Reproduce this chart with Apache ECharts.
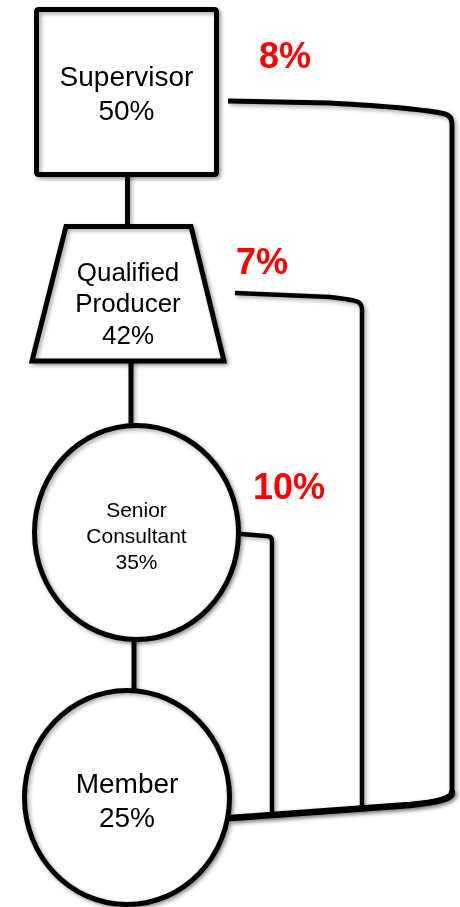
<!DOCTYPE html>
<html>
<head>
<meta charset="utf-8">
<script src="https://cdn.jsdelivr.net/npm/echarts@6/dist/echarts.min.js"></script>
<style>
html,body{margin:0;padding:0;background:#fff;}
#chart{width:460px;height:907px;}
</style>
</head>
<body>
<div id="chart"></div>
<script>
// ---- data ----
const roleNames = ['Supervisor', 'Qualified\nProducer', 'Senior\nConsultant', 'Member'];
const roleShares = [50, 42, 35, 25];
const overrideFrom = ['Supervisor', 'Qualified\nProducer', 'Senior\nConsultant'];
const overrideTo = ['Member', 'Member', 'Member'];
const overrideRates = [8, 7, 10];

// ---- layout (diagram space, 460 x 907) ----
const nodeLayout = [
  { shape: 'rect', x1: 36.5, y1: 9.5, x2: 216.5, y2: 174.5, textY: 95, fontSize: 28, lineHeight: 34 },
  { shape: 'trap', top: 226.5, bottom: 361, tl: 66, tr: 191, bl: 32, br: 224, cx: 128, textY: 305, fontSize: 26, lineHeight: 31.5 },
  { shape: 'ellipse', cx: 136.5, cy: 532.5, rx: 102, ry: 107, textY: 537, fontSize: 21, lineHeight: 26 },
  { shape: 'ellipse', cx: 127, cy: 797.5, rx: 102.5, ry: 107, textY: 802, fontSize: 28, lineHeight: 34 }
];
const stemLayout = [
  [[127.5, 170], [127.5, 230]],
  [[131, 358], [131, 428]],
  [[134, 636], [134, 694]]
];
const linkLayout = [
  { pts: [['M', 228, 101], ['L', 330, 103], ['Q', 420, 108, 445, 114], ['Q', 452, 116, 452, 124], ['L', 452, 792], ['Q', 452, 801, 410, 805], ['L', 231, 818]], label: [285, 58] },
  { pts: [['M', 235, 293], ['L', 330, 297], ['Q', 355, 300, 358, 302], ['Q', 362, 304, 362, 310], ['L', 362, 809]], label: [262, 264] },
  { pts: [['M', 241, 534], ['L', 266, 536], ['Q', 272, 536, 272, 541], ['L', 272, 815]], label: [289, 489] }
];

const FONT = '"Liberation Sans", Arial, Helvetica, sans-serif';
const shadow = { shadowBlur: 4, shadowColor: 'rgba(0,0,0,0.35)', shadowOffsetX: 2, shadowOffsetY: 2 };

const chart = echarts.init(document.getElementById('chart'), null, { renderer: 'canvas' });

function P(api, x, y) { return api.coord([x, y]); }

function pathFrom(api, cmds) {
  let s = '';
  cmds.forEach(c => {
    const op = c[0];
    const nums = [];
    for (let i = 1; i < c.length; i += 2) {
      const p = P(api, c[i], c[i + 1]);
      nums.push(p[0].toFixed(2), p[1].toFixed(2));
    }
    s += op + nums.join(' ') + ' ';
  });
  return s;
}

function renderLink(params, api) {
  const i = params.dataIndex;
  const L = linkLayout[i];
  const lp = P(api, L.label[0], L.label[1]);
  const children = [{
    type: 'path',
    shape: { pathData: pathFrom(api, L.pts) },
    style: Object.assign({ fill: null, stroke: '#000', lineWidth: i === 0 ? 5 : 4.5, lineJoin: 'round', lineCap: 'butt' }, shadow)
  }, {
    type: 'text',
    style: {
      text: overrideRates[i] + '%', x: lp[0], y: lp[1], align: 'center', verticalAlign: 'middle',
      fontSize: 36, fontWeight: 'bold', fontFamily: FONT, fill: '#ff0000'
    }
  }];
  if (i === 0) {
    // thicker bottom collector line
    children.push({
      type: 'path',
      shape: { pathData: pathFrom(api, [['M', 452, 793], ['Q', 452, 801, 410, 805], ['L', 231, 818]]) },
      style: Object.assign({ fill: null, stroke: '#000', lineWidth: 6.5, lineCap: 'round' }, shadow)
    });
  }
  return { type: 'group', children: children };
}

function renderStem(params, api) {
  const s = stemLayout[params.dataIndex];
  const a = P(api, s[0][0], s[0][1]), b = P(api, s[1][0], s[1][1]);
  return { type: 'line', shape: { x1: a[0], y1: a[1], x2: b[0], y2: b[1] },
    style: Object.assign({ stroke: '#000', lineWidth: 5 }, shadow) };
}

function renderNode(params, api) {
  const i = params.dataIndex;
  const N = nodeLayout[i];
  const st = Object.assign({ fill: '#fff', stroke: '#000', lineWidth: 5, lineJoin: 'miter' }, shadow);
  let shapeEl, cx;
  if (N.shape === 'rect') {
    const a = P(api, N.x1, N.y1), b = P(api, N.x2, N.y2);
    shapeEl = { type: 'rect', shape: { x: a[0], y: a[1], width: b[0] - a[0], height: b[1] - a[1], r: 2 }, style: st };
    cx = (N.x1 + N.x2) / 2;
  } else if (N.shape === 'trap') {
    const pts = [[N.tl, N.top], [N.tr, N.top], [N.br, N.bottom], [N.bl, N.bottom]].map(p => P(api, p[0], p[1]));
    shapeEl = { type: 'polygon', shape: { points: pts }, style: st };
    cx = N.cx;
  } else {
    const c = P(api, N.cx, N.cy);
    const e = P(api, N.cx + N.rx, N.cy + N.ry);
    shapeEl = { type: 'ellipse', shape: { cx: c[0], cy: c[1], rx: e[0] - c[0], ry: e[1] - c[1] }, style: st };
    cx = N.cx;
  }
  const tp = P(api, cx, N.textY);
  const textEl = {
    type: 'text',
    style: {
      text: roleNames[i] + '\n' + roleShares[i] + '%', x: tp[0], y: tp[1],
      align: 'center', verticalAlign: 'middle', fontSize: N.fontSize, lineHeight: N.lineHeight,
      fontFamily: FONT, fill: '#000'
    }
  };
  return { type: 'group', children: [shapeEl, textEl] };
}

chart.setOption({
  animation: false,
  backgroundColor: '#fff',
  grid: { left: 0, right: 0, top: 0, bottom: 0 },
  xAxis: { type: 'value', min: 0, max: 460, show: false },
  yAxis: { type: 'value', min: 0, max: 907, inverse: true, show: false },
  series: [
    { type: 'custom', name: 'overrides', renderItem: renderLink, clip: false,
      data: overrideRates.map((r, i) => ({ name: overrideFrom[i] + ' → ' + overrideTo[i], value: [i, r] })) },
    { type: 'custom', name: 'stems', renderItem: renderStem, clip: false,
      data: stemLayout.map((s, i) => [i, i]) },
    { type: 'custom', name: 'roles', renderItem: renderNode, clip: false,
      data: roleShares.map((v, i) => ({ name: roleNames[i], value: [i, v] })) }
  ]
});
</script>
</body>
</html>
